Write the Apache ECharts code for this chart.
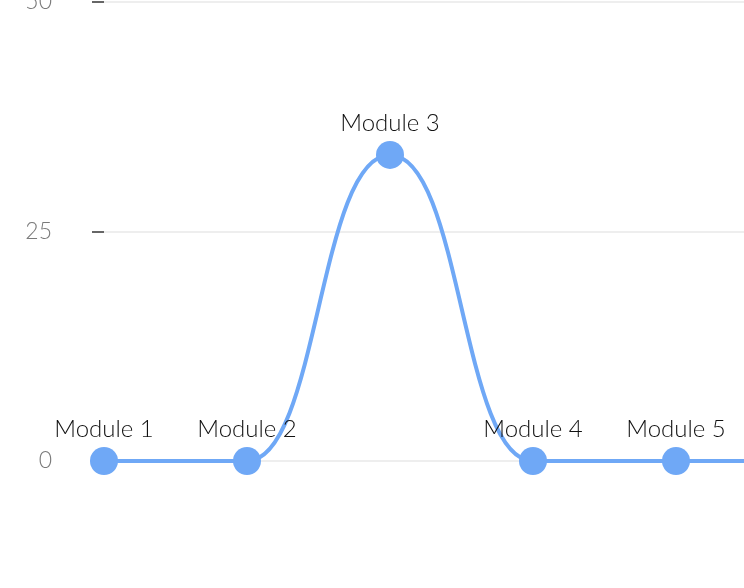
<!DOCTYPE html>
<html>
<head>
<meta charset="utf-8">
<script src="https://cdn.jsdelivr.net/npm/echarts@6/dist/echarts.min.js"></script>
<style>
html,body{margin:0;padding:0;background:#fff;}
#c{width:744px;height:588px;}
</style>
</head>
<body>
<div id="c"></div>
<script>
const categories = ['Module 1', 'Module 2', 'Module 3', 'Module 4', 'Module 5', 'Module 6'];
const values = [0, 0, 33.3, 0, 0, 0];
const yTicks = { min: 0, max: 50, interval: 25 };

const chart = echarts.init(document.getElementById('c'), null, { renderer: 'canvas' });
chart.setOption({
  animation: false,
  grid: { left: 104, width: 715, top: 1.5, height: 459.5, containLabel: false, outerBoundsMode: 'none' },
  xAxis: {
    type: 'category',
    data: categories,
    boundaryGap: false,
    axisLine: { show: false },
    axisTick: { show: false },
    axisLabel: { show: false },
    splitLine: { show: false }
  },
  yAxis: {
    type: 'value',
    min: yTicks.min,
    max: yTicks.max,
    interval: yTicks.interval,
    axisLine: { show: false },
    axisTick: { show: true, length: 12, lineStyle: { color: '#666', width: 2 } },
    axisLabel: { margin: 52, color: '#7a7a7a', fontSize: 23, fontFamily: 'Lato', fontWeight: 300 },
    splitLine: { lineStyle: { color: '#eeeeee', width: 2 } }
  },
  series: [{
    type: 'line',
    data: values,
    smooth: 0.5,
    smoothMonotone: 'x',
    symbol: 'circle',
    symbolSize: 28,
    lineStyle: { color: '#6fa8f6', width: 4 },
    itemStyle: { color: '#6fa8f6' },
    label: {
      show: true,
      position: 'top',
      distance: 6,
      formatter: p => categories[p.dataIndex],
      color: '#111',
      fontSize: 24,
      fontFamily: 'Lato',
      fontWeight: 300
    }
  }]
});
</script>
</body>
</html>
